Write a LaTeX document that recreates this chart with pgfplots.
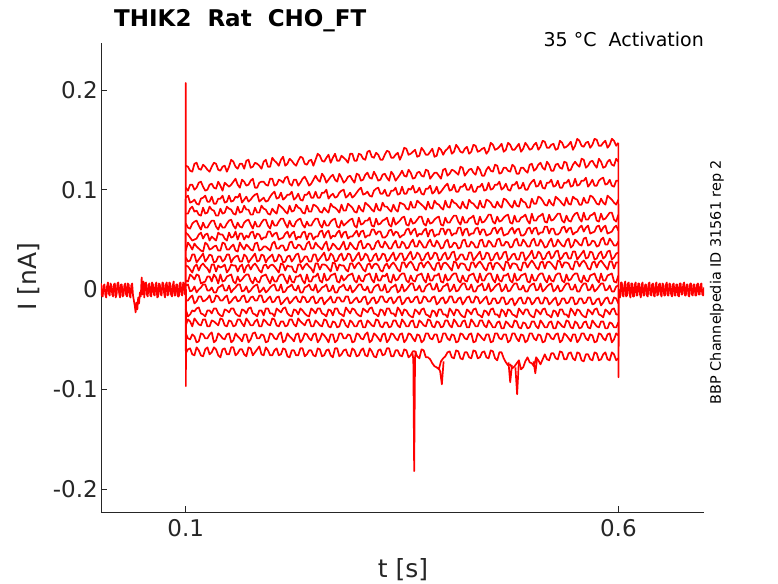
\documentclass[border=0pt]{standalone}
\usepackage{pgfplots}
\pgfplotsset{compat=1.18}
\usepackage{pgfplotstable}
\usepackage{fontspec}
\setmainfont{DejaVu Sans}
\definecolor{axgray}{RGB}{38,38,38}
\definecolor{trace}{RGB}{255,0,0}

% current in pA, time in ms
\pgfplotstableread{
t a b c d e f g h i j k l m n o p
100 124 102 92 76 66 57 39 32 24 9 4 -11 -20 -36 -44 -64
102.5 123 99 94 76 62 55 47 28 23 8 5 -11 -27 -30 -49 -60
105 119 105 87 81 61 52 44 29 20 15 -2 -8 -25 -32 -50 -59
107.5 118 105 88 83 66 49 40 35 17 13 -1 -6 -21 -37 -45 -65
110 126 100 90 78 68 50 46 35 23 10 3 -14 -22 -29 -47 -66
112.5 127 102 86 79 69 51 43 27 25 15 -3 -12 -19 -32 -53 -58
115 121 107 85 75 64 55 41 30 19 14 0 -7 -18 -35 -52 -61
117.5 120 108 91 74 60 57 39 33 24 6 2 -7 -24 -36 -44 -66
120 125 103 92 82 67 51 38 36 26 7 5 -12 -25 -30 -45 -67
122.5 123 99 94 76 62 55 47 28 23 8 5 -11 -27 -30 -49 -60
125 120 100 88 77 62 56 45 31 21 13 -1 -9 -21 -37 -49 -58
127.5 118 105 88 83 66 49 40 35 17 13 -1 -6 -21 -37 -45 -65
130 123 106 93 80 69 53 41 34 25 8 2 -13 -24 -31 -43 -63
132.5 127 102 86 79 69 51 43 27 25 15 -3 -12 -19 -32 -53 -58
135 126 101 86 74 63 49 44 28 18 12 -3 -6 -19 -34 -51 -60
137.5 120 108 91 74 60 57 39 33 24 6 2 -7 -24 -36 -44 -66
140 119 104 91 81 66 55 39 33 22 15 3 -11 -26 -29 -46 -68
142.5 123 99 94 76 62 55 47 28 23 8 5 -11 -27 -30 -49 -60
145 124 107 87 77 62 51 46 30 25 9 -1 -8 -20 -36 -50 -59
147.5 118 105 88 83 66 49 40 35 17 13 -1 -6 -21 -37 -45 -65
150 123 103 94 81 69 57 40 35 20 14 4 -14 -23 -31 -44 -65
152.5 130 105 88 80 70 52 43 27 25 15 -3 -12 -19 -32 -53 -58
155 128 108 89 76 64 53 45 31 24 8 0 -9 -19 -37 -51 -58
157.5 123 111 93 75 61 58 39 33 24 6 2 -7 -24 -36 -44 -66
160 121 105 92 83 67 50 38 34 18 13 5 -12 -26 -30 -47 -64
162.5 126 102 96 77 63 56 47 28 23 8 5 -11 -27 -30 -49 -60
165 126 110 87 78 62 56 43 28 25 10 -2 -7 -20 -34 -52 -60
167.5 121 108 90 84 67 50 40 35 17 13 -1 -6 -21 -37 -45 -65
170 129 104 93 80 69 54 45 33 23 15 3 -13 -24 -29 -45 -67
172.5 130 105 88 80 70 52 43 27 25 15 -3 -12 -19 -32 -53 -58
175 122 109 90 75 65 57 40 30 20 9 -1 -8 -18 -36 -50 -59
177.5 123 111 93 75 61 58 39 33 24 6 2 -7 -24 -36 -44 -66
180 127 102 95 82 68 51 46 36 26 12 4 -11 -25 -32 -43 -63
182.5 126 102 96 77 63 56 47 28 23 8 5 -11 -27 -30 -49 -60
185 124 107 88 77 63 55 39 29 19 7 -3 -6 -21 -37 -49 -57
187.5 121 108 90 84 67 50 40 35 17 13 -1 -6 -21 -37 -45 -65
190 128 108 92 81 70 52 43 34 24 14 2 -13 -26 -30 -46 -66
192.5 130 105 88 80 70 52 43 27 25 15 -3 -12 -19 -32 -53 -58
195 123 104 89 76 64 58 41 31 21 10 -1 -9 -19 -35 -52 -61
197.5 123 111 93 75 61 58 39 33 24 6 2 -7 -24 -36 -44 -66
200 132 111 96 81 69 53 46 35 25 13 4 -13 -24 -29 -45 -66
202.5 129 104 98 78 64 56 48 28 23 8 5 -12 -27 -30 -49 -61
205 127 105 91 76 64 57 41 29 20 8 -1 -8 -19 -36 -50 -59
207.5 124 110 92 85 68 50 41 35 17 13 -1 -7 -21 -37 -45 -66
210 130 109 97 83 71 51 44 33 26 15 5 -15 -23 -32 -43 -65
212.5 133 107 90 81 71 52 44 27 25 15 -3 -13 -19 -32 -53 -59
215 124 112 92 78 66 56 39 28 19 10 -2 -10 -18 -37 -51 -60
217.5 126 113 95 76 62 58 40 33 24 6 2 -8 -24 -36 -44 -67
220 131 106 95 84 69 52 47 34 23 14 3 -14 -26 -30 -47 -68
222.5 129 104 98 78 64 56 48 28 23 8 5 -12 -27 -30 -49 -61
225 126 110 90 79 63 58 42 31 18 7 0 -9 -20 -35 -52 -61
227.5 124 110 92 85 68 50 41 35 17 13 -1 -7 -21 -37 -45 -66
230 129 104 96 82 70 53 45 36 25 13 4 -12 -25 -29 -44 -66
232.5 133 107 90 81 71 52 44 27 25 15 -3 -13 -19 -32 -53 -59
235 132 111 89 77 65 57 40 29 20 9 -3 -7 -21 -34 -50 -59
237.5 126 113 95 76 62 58 40 33 24 6 2 -8 -24 -36 -44 -67
240 125 109 95 84 68 50 46 33 26 15 3 -13 -26 -31 -45 -65
242.5 129 104 98 78 64 56 48 28 23 8 5 -12 -27 -30 -49 -61
245 130 106 92 78 64 56 41 28 21 8 0 -8 -19 -37 -51 -61
247.5 124 110 92 85 68 50 41 35 17 13 -1 -7 -21 -37 -45 -66
250 130 114 98 84 71 53 47 35 26 13 5 -14 -24 -31 -44 -67
252.5 136 110 92 82 71 53 44 28 26 16 -3 -13 -19 -33 -53 -59
255 134 108 92 78 65 58 42 31 20 9 -1 -9 -19 -36 -50 -60
257.5 129 116 97 77 62 59 40 34 25 7 2 -8 -24 -37 -44 -67
260 128 113 97 82 69 52 45 37 25 16 3 -15 -25 -30 -46 -66
262.5 132 107 100 79 64 57 48 29 24 9 5 -12 -27 -31 -49 -61
265 135 110 91 77 64 59 39 30 21 10 -2 -10 -20 -37 -53 -60
267.5 127 113 94 86 68 51 41 36 18 14 -1 -7 -21 -38 -45 -66
270 132 115 96 83 70 54 46 34 27 15 4 -13 -26 -32 -45 -68
272.5 136 110 92 82 71 53 44 28 26 16 -3 -13 -19 -33 -53 -59
275 129 108 93 80 63 57 41 29 19 8 -3 -8 -19 -38 -51 -59
277.5 129 116 97 77 62 59 40 34 25 7 2 -8 -24 -37 -44 -67
280 134 112 99 85 69 52 44 36 24 14 3 -12 -25 -30 -44 -65
282.5 132 107 100 79 64 57 48 29 24 9 5 -12 -27 -31 -49 -61
285 130 109 92 79 66 58 40 31 20 11 0 -7 -18 -36 -49 -60
287.5 127 113 94 86 68 51 41 36 18 14 -1 -7 -21 -38 -45 -66
290 136 114 97 84 70 53 47 35 26 15 4 -14 -24 -31 -46 -67
292.5 136 110 92 82 71 53 44 28 26 16 -3 -13 -19 -33 -53 -59
295 129 107 94 78 64 56 41 30 21 9 -1 -10 -20 -37 -52 -61
297.5 129 116 97 77 62 59 40 34 25 7 2 -8 -24 -37 -44 -67
300 136 115 100 84 72 53 47 37 27 14 5 -13 -26 -32 -45 -66
302.5 135 109 102 80 65 58 49 29 24 9 5 -12 -27 -31 -49 -61
305 131 110 95 78 66 59 41 31 20 8 0 -8 -19 -38 -50 -59
307.5 130 115 96 87 69 52 42 36 18 14 -1 -7 -21 -38 -45 -66
310 138 117 98 85 69 54 46 34 25 15 3 -15 -23 -31 -43 -67
312.5 139 112 94 83 72 54 45 28 26 16 -3 -13 -19 -33 -53 -59
315 133 111 93 80 64 60 40 29 21 10 -3 -9 -18 -36 -51 -62
317.5 132 118 99 78 63 60 41 34 25 7 2 -8 -24 -37 -44 -67
320 137 114 101 86 71 55 47 36 26 16 4 -14 -25 -30 -46 -68
322.5 135 109 102 80 65 58 49 29 24 9 5 -12 -27 -31 -49 -61
325 130 110 96 79 66 58 43 31 19 9 -1 -7 -20 -37 -52 -60
327.5 130 115 96 87 69 52 42 36 18 14 -1 -7 -21 -38 -45 -66
330 135 116 100 83 70 52 48 35 24 13 5 -12 -26 -33 -44 -65
332.5 139 112 94 83 72 54 45 28 26 16 -3 -13 -19 -33 -53 -59
335 138 109 94 80 65 59 41 30 21 8 -2 -9 -19 -38 -50 -59
337.5 132 118 99 78 63 60 41 34 25 7 2 -8 -24 -37 -44 -67
340 132 115 99 85 72 54 46 37 27 15 3 -14 -24 -31 -45 -67
342.5 135 109 102 80 65 58 49 29 24 9 5 -12 -27 -31 -49 -61
345 137 112 95 78 67 57 42 32 20 10 -3 -8 -18 -36 -51 -61
347.5 130 115 96 87 69 52 42 36 18 14 -1 -7 -21 -38 -45 -66
350 135 119 103 86 72 54 48 36 27 16 5 -15 -26 -30 -44 -67
352.5 142 114 96 85 73 55 46 29 27 16 -2 -13 -20 -33 -53 -60
355 141 113 96 81 65 60 41 31 22 9 0 -9 -21 -37 -50 -61
357.5 135 120 101 80 64 61 42 35 26 7 3 -8 -25 -37 -44 -68
360 136 117 100 88 71 55 47 38 28 14 6 -13 -27 -32 -45 -66
362.5 138 111 104 82 66 59 50 30 25 9 6 -12 -28 -31 -49 -62
365 140 112 97 82 67 61 43 32 20 8 -1 -8 -20 -38 -52 -62
367.5 133 117 98 89 70 53 43 37 19 14 0 -7 -22 -38 -45 -67
370 134 118 102 87 73 56 49 35 26 15 4 -14 -25 -31 -46 -69
372.5 142 114 96 85 73 55 46 29 27 16 -2 -13 -20 -33 -53 -60
375 139 113 95 83 66 59 42 30 22 10 -2 -7 -19 -36 -51 -61
377.5 135 120 101 80 64 61 42 35 26 7 3 -8 -25 -37 -44 -68
380 135 119 101 88 71 53 47 37 28 16 5 -12 -26 -30 -44 -68
382.5 138 111 104 82 66 59 50 30 25 9 6 -12 -28 -31 -49 -70
385 141 114 96 81 67 60 44 32 21 9 0 -8 -21 -37 -50 -74
387.5 133 117 98 89 70 53 43 37 19 14 0 -7 -22 -38 -45 -77
390 134 117 103 86 72 55 49 36 26 14 6 -15 -27 -32 -45 -78
392.5 142 114 96 85 73 55 46 29 27 16 -2 -13 -20 -33 -53 -80
395 140 111 98 82 65 61 41 30 20 8 -1 -9 -20 -38 -52 -72
397.5 135 120 101 80 64 61 42 35 26 7 3 -8 -25 -37 -44 -69
400 139 121 104 89 72 55 48 37 27 15 4 -14 -25 -31 -44 -67
402.5 141 114 106 83 67 60 50 30 25 9 6 -12 -28 -31 -49 -63
405 144 116 99 82 67 60 42 32 22 10 -2 -7 -19 -36 -51 -62
407.5 136 120 100 90 71 54 43 37 19 14 0 -7 -22 -38 -45 -68
410 138 119 105 87 74 56 47 38 28 16 5 -13 -26 -30 -46 -69
412.5 145 117 98 86 74 56 46 29 27 16 -2 -13 -20 -33 -53 -61
415 142 115 98 83 68 62 41 31 21 9 -1 -9 -21 -37 -52 -62
417.5 138 123 103 81 65 62 42 35 26 7 3 -8 -25 -37 -44 -69
420 137 122 103 88 73 54 49 35 26 14 6 -15 -27 -32 -45 -70
422.5 141 114 106 83 67 60 50 30 25 9 6 -12 -28 -31 -49 -63
425 143 117 100 81 67 61 43 30 20 8 0 -8 -20 -38 -50 -63
427.5 136 120 100 90 71 54 43 37 19 14 0 -7 -22 -38 -45 -68
430 138 121 105 87 72 56 48 37 27 15 5 -13 -25 -30 -44 -69
432.5 145 117 98 86 74 56 46 29 27 16 -2 -13 -20 -33 -53 -61
435 144 115 98 83 66 61 42 32 22 10 -2 -7 -19 -37 -52 -62
437.5 138 123 103 81 65 62 42 35 26 7 3 -8 -25 -37 -44 -69
440 139 120 103 89 73 55 49 38 28 16 4 -14 -26 -31 -46 -68
442.5 141 114 106 83 67 60 50 30 25 9 6 -12 -28 -31 -49 -63
445 142 114 99 82 68 60 43 31 21 9 -1 -9 -21 -36 -51 -62
447.5 136 120 100 90 71 54 43 37 19 14 0 -7 -22 -38 -45 -68
450 139 123 107 89 75 55 49 36 26 16 6 -15 -26 -31 -45 -69
452.5 147 119 100 87 75 56 47 29 27 16 -2 -14 -20 -34 -53 -61
455 145 118 101 83 68 61 43 30 20 10 0 -9 -19 -38 -52 -62
457.5 140 125 105 82 66 62 43 35 26 7 3 -9 -25 -38 -44 -69
460 141 124 105 88 73 56 50 37 27 15 5 -14 -25 -33 -44 -71
462.5 143 116 108 84 68 60 51 30 25 9 6 -13 -28 -32 -49 -63
465 146 117 100 82 69 62 44 32 22 8 -2 -8 -20 -39 -50 -63
467.5 138 122 102 91 72 54 44 37 19 14 0 -8 -22 -39 -45 -69
470 140 122 106 90 74 55 48 38 28 14 5 -15 -27 -32 -45 -73
472.5 147 119 100 87 75 56 47 29 27 16 -2 -14 -20 -34 -53 -76
475 145 118 99 84 67 60 42 31 21 9 -1 -10 -21 -37 -51 -75
477.5 140 125 105 82 66 62 43 35 26 7 3 -9 -25 -38 -44 -79
480 140 123 105 89 74 56 49 36 26 16 6 -16 -26 -31 -44 -77
482.5 143 116 108 84 68 60 51 30 25 9 6 -13 -28 -32 -49 -74
485 146 116 101 83 68 61 44 30 20 10 0 -9 -19 -38 -52 -71
487.5 138 122 102 91 72 54 44 37 19 14 0 -8 -22 -39 -45 -80
490 141 122 107 88 73 54 50 37 27 15 4 -14 -25 -33 -46 -78
492.5 147 119 100 87 75 56 47 29 27 16 -2 -14 -20 -34 -53 -72
495 144 117 100 82 69 61 43 32 22 8 -2 -8 -20 -39 -51 -68
497.5 140 125 105 82 66 62 43 35 26 7 3 -9 -25 -38 -44 -73
500 141 126 108 91 76 56 49 39 29 15 5 -15 -27 -32 -44 -74
502.5 145 119 110 86 69 61 51 31 26 9 6 -13 -28 -32 -49 -77
505 147 121 103 86 69 62 44 32 22 9 -1 -9 -20 -37 -51 -68
507.5 140 125 104 93 73 55 44 38 20 14 0 -8 -22 -39 -45 -71
510 143 127 109 92 74 57 50 36 27 16 6 -14 -25 -31 -46 -75
512.5 149 122 102 89 76 57 47 30 28 16 -2 -14 -20 -34 -53 -70
515 148 120 101 85 68 63 42 31 21 10 0 -8 -19 -38 -52 -65
517.5 142 128 107 84 67 63 43 36 27 7 3 -9 -25 -38 -44 -70
520 142 125 107 90 75 56 48 38 28 14 5 -15 -26 -33 -45 -71
522.5 145 119 110 86 69 61 51 31 26 9 6 -13 -28 -32 -49 -64
525 146 119 103 84 70 61 43 33 23 8 -2 -10 -21 -39 -50 -64
527.5 140 125 104 93 73 55 44 38 20 14 0 -8 -22 -39 -45 -69
530 141 126 109 91 76 55 50 39 29 16 4 -16 -27 -32 -44 -70
532.5 149 122 102 89 76 57 47 30 28 16 -2 -14 -20 -34 -53 -62
535 147 121 102 86 69 62 44 32 22 9 -1 -9 -20 -37 -51 -63
537.5 142 128 107 84 67 63 43 36 27 7 3 -9 -25 -38 -44 -70
540 143 127 107 92 74 57 49 37 27 15 6 -14 -25 -31 -46 -70
542.5 145 119 110 86 69 61 51 31 26 9 6 -13 -28 -32 -49 -64
545 148 120 103 85 68 62 42 31 21 10 0 -8 -19 -38 -52 -63
547.5 140 125 104 93 73 55 44 38 20 14 0 -8 -22 -39 -45 -69
550 144 128 111 91 76 57 50 38 28 16 5 -15 -26 -32 -45 -71
552.5 151 125 104 90 77 58 48 30 28 16 -2 -14 -20 -34 -53 -63
555 149 123 105 85 71 62 45 33 23 9 -2 -9 -21 -39 -50 -64
557.5 144 131 109 85 68 64 44 36 27 7 3 -9 -25 -38 -44 -71
560 143 130 109 92 77 58 51 39 29 14 6 -14 -27 -33 -44 -72
562.5 147 122 112 87 70 62 52 31 26 9 6 -13 -28 -32 -49 -65
565 148 124 103 87 70 64 44 32 21 8 -1 -8 -20 -38 -51 -65
567.5 142 128 106 94 74 56 45 38 20 14 0 -8 -22 -39 -45 -70
570 145 129 110 93 75 57 49 37 27 15 5 -15 -25 -31 -46 -71
572.5 151 125 104 90 77 58 48 30 28 16 -2 -14 -20 -34 -53 -63
575 150 122 104 86 69 63 43 31 22 10 0 -10 -19 -37 -52 -64
577.5 144 131 109 85 68 64 44 36 27 7 3 -9 -25 -38 -44 -71
580 144 128 111 91 76 58 50 38 29 16 6 -16 -26 -32 -45 -70
582.5 147 122 112 87 70 62 52 31 26 9 6 -13 -28 -32 -49 -65
585 149 123 105 85 71 64 45 33 23 9 -1 -9 -20 -39 -51 -63
587.5 142 128 106 94 74 56 45 38 20 14 0 -8 -22 -39 -45 -70
590 145 130 110 92 77 57 51 39 28 15 4 -14 -25 -33 -44 -71
592.5 151 125 104 90 77 58 48 30 28 16 -2 -14 -20 -34 -53 -63
595 149 124 103 87 70 62 44 32 21 8 -2 -8 -19 -38 -50 -65
597.5 144 131 109 85 68 64 44 36 27 7 3 -9 -25 -38 -44 -71
600 147 128 109 90 75 59 48 37 27 14 4 -14 -25 -33 -46 -69
}\steps

\begin{document}
\begin{tikzpicture}
\begin{axis}[
  at={(0,0)}, anchor=south west,
  scale only axis, width=603pt, height=469pt,
  xmin=2, xmax=699, ymin=-223, ymax=247,
  axis lines*=left,
  axis line style={axgray, line width=0.6pt, -},
  tick style={axgray, line width=0.6pt},
  tick align=inside, major tick length=6pt,
  xtick={100,600}, xticklabels={0.1,0.6},
  ytick={-200,-100,0,100,200},
  yticklabels={-0.2,-0.1,0,0.1,0.2},
  ticklabel style={font=\fontsize{23}{23}\selectfont, text=axgray, inner sep=0pt},
  xticklabel style={anchor=north, yshift=-7pt},
  yticklabel style={anchor=east, xshift=-3pt},
  cycle list={trace,mark=none,solid\\},
  every axis plot post/.append style={color=trace, mark=none, solid, line width=1.7pt, line join=round},
]
% baseline before and after the step
\addplot coordinates {(2,6)(3,-6)(4,-7)(5,4)(6,5)(7,-5)(8,-8)(9,3)(10,7)(11,-4)(12,-6)(13,6)(14,4)(15,-5)(16,-7)(17,5)(18,6)(19,-8)(20,-5)(21,6)(22,7)(23,-4)(24,-8)(25,5)(26,5)(27,-7)(28,-6)(29,4)(30,6)(31,-5)(32,-7)(33,6)(34,5)(35,-6)(36,-8)(37,4)(38,6)(39,-6)(40,-11)(41,-16)(42,-23)(43,-13)(44,-20)(45,-8)(46,-14)(47,-3)(48,-7)(49,12)(50,-5)(51,8)(52,-8)(53,6)(54,7)(55,-5)(56,-7)(57,5)(58,6)(59,-6)(60,-7)(61,7)(62,5)(63,-5)(64,-6)(65,5)(66,7)(67,-8)(68,-7)(69,6)(70,5)(71,-5)(72,-6)(73,7)(74,6)(75,-4)(76,-8)(77,5)(78,7)(79,-6)(80,-5)(81,7)(82,6)(83,-5)(84,-7)(85,4)(86,8)(87,-6)(88,-6)(89,5)(90,5)(91,-7)(92,-7)(93,6)(94,7)(95,-5)(96,-6)(97,7)(98,6)(99,-5)(99.6,-2)};
\addplot coordinates {(600.6,0)(601,-7)(602,-8)(603,7)(604,7)(605,-6)(606,-7)(607,5)(608,8)(609,-7)(610,-6)(611,6)(612,7)(613,-5)(614,-8)(615,6)(616,6)(617,-7)(618,-7)(619,5)(620,7)(621,-6)(622,-6)(623,6)(624,6)(625,-5)(626,-8)(627,5)(628,7)(629,-6)(630,-6)(631,5)(632,5)(633,-6)(634,-7)(635,6)(636,7)(637,-5)(638,-6)(639,5)(640,6)(641,-6)(642,-7)(643,5)(644,7)(645,-6)(646,-5)(647,5)(648,6)(649,-5)(650,-7)(651,6)(652,5)(653,-6)(654,-6)(655,5)(656,7)(657,-6)(658,-6)(659,6)(660,5)(661,-5)(662,-7)(663,5)(664,6)(665,-6)(666,-6)(667,5)(668,5)(669,-6)(670,-7)(671,6)(672,6)(673,-5)(674,-5)(675,5)(676,7)(677,-6)(678,-6)(679,5)(680,5)(681,-6)(682,-7)(683,6)(684,6)(685,-5)(686,-6)(687,5)(688,5)(689,-6)(690,-6)(691,5)(692,6)(693,-5)(694,-5)(695,5)(696,6)(697,-5)(698,-6)(699,2)};
% the sweeps
\pgfplotsinvokeforeach{a,b,c,d,e,f,g,h,i,j,k,l,m,n,o,p}{
  \addplot table[x=t, y=#1] {\steps};
}
% capacitive transients
\addplot coordinates {(99.7,0)(99.9,207)(100.1,-97)(100.3,0)};
\addplot coordinates {(600,147)(600.2,-88)(600.6,0)};
% fast events on the lowest sweep
\addplot coordinates {(362,-64)(363,-70)(364,-182)(365,-68)(366,-62)};
\addplot coordinates {(392,-78)(394,-82)(396,-95)(398,-72)};
\addplot coordinates {(473,-73)(475,-93)(477,-76)};
\addplot coordinates {(481,-78)(483,-105)(485,-72)};
\addplot coordinates {(502,-72)(504,-84)(506,-70)};
\end{axis}
\node[anchor=base west, font=\bfseries\fontsize{23}{23}\selectfont, inner sep=0pt] at (13pt,485pt) {THIK2\ \ Rat\ \ CHO\_FT};
\node[anchor=base east, font=\fontsize{19}{19}\selectfont, inner sep=0pt] at (603pt,465pt) {35 °C\ \ Activation};
\node[rotate=90, anchor=center, font=\fontsize{14.4}{14.4}\selectfont, inner sep=0pt] at (616pt,230pt) {BBP Channelpedia ID 31561 rep 2};
\node[rotate=90, anchor=base, font=\fontsize{25}{25}\selectfont, text=axgray, inner sep=0pt] at (-64pt,235pt) {I [nA]};
\node[anchor=base, font=\fontsize{25}{25}\selectfont, text=axgray, inner sep=0pt] at (302pt,-65pt) {t [s]};
\pgfresetboundingbox
\useasboundingbox (-101pt,-71pt) rectangle (677pt,512pt);
\end{tikzpicture}
\end{document}
